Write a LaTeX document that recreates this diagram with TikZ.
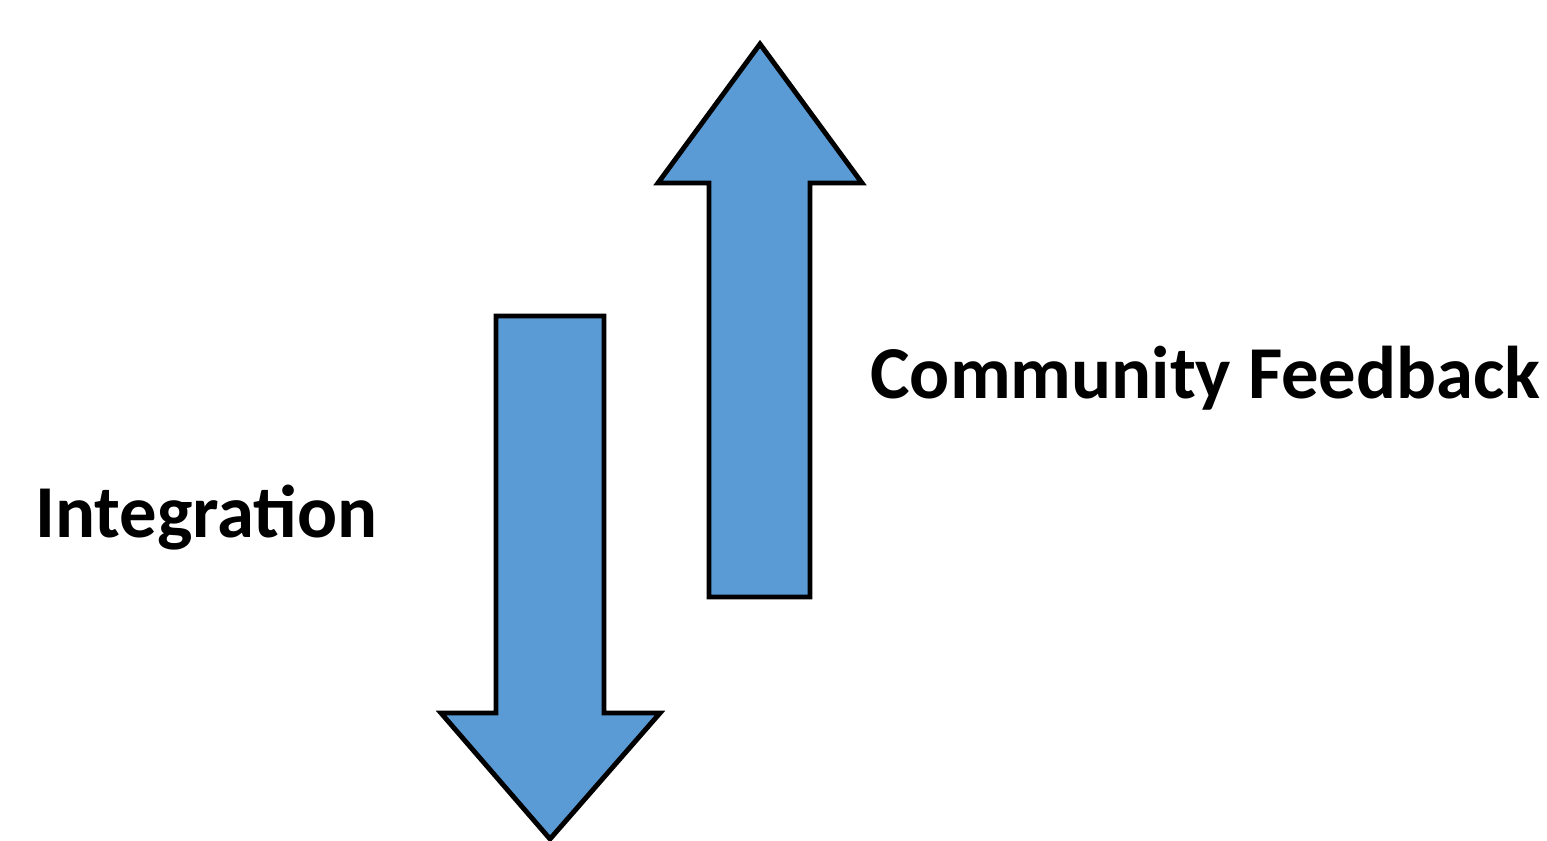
\documentclass[tikz,border=0pt]{standalone}
\usepackage{fontspec}
\setmainfont{Carlito}
\usepackage{tikz}
\definecolor{arrowblue}{HTML}{5B9BD5}
\tikzstyle{blockarrow} = [fill=arrowblue, draw=black, line width=2.8pt, line join=miter]
\tikzstyle{label} = [anchor=base west, inner sep=0pt, font=\bfseries\fontsize{42.5}{50}\selectfont]

\begin{document}
\begin{tikzpicture}[x=0.02cm, y=-0.02cm]
    \useasboundingbox (0,0) rectangle (1547,841);
    % down arrow
    \draw [blockarrow] (496,316) -- (604,316) -- (604,713) -- (660,713)
        -- (550,839) -- (441,713) -- (496,713) -- cycle;
    % up arrow
    \draw [blockarrow] (709,597) -- (810,597) -- (810,183) -- (862,183)
        -- (760,44) -- (658,183) -- (709,183) -- cycle;
    \node (integ) [label] at (35,537) {Integration};
    \node (feedb) [label] at (870,398) {Community Feedback};
\end{tikzpicture}
\end{document}
